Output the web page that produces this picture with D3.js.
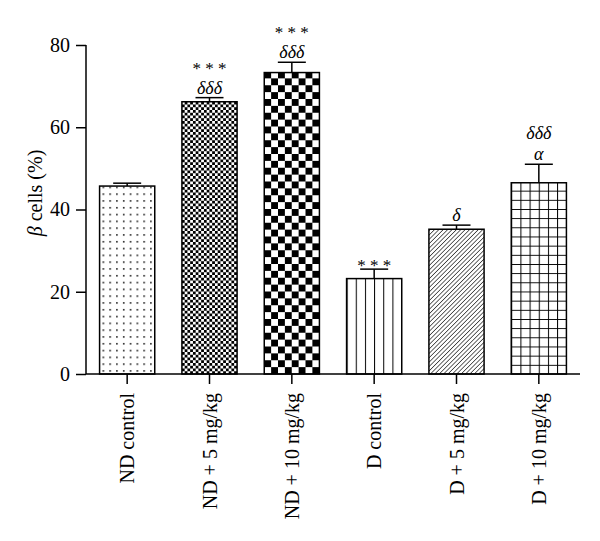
<!DOCTYPE html>
<html>
<head>
<meta charset="utf-8">
<script src="https://cdn.jsdelivr.net/npm/d3@7"></script>
<style>
  body { margin: 0; background: #fff; }
  text { font-family: "Liberation Serif", "Times New Roman", serif; fill: #000; }
</style>
</head>
<body>
<svg id="chart" width="600" height="541"></svg>
<script>
// data
var groups = ["ND control", "ND + 5 mg/kg", "ND + 10 mg/kg", "D control", "D + 5 mg/kg", "D + 10 mg/kg"];
var means = [45.7, 66.2, 73.3, 23.2, 35.2, 46.5];
var errors = [0.7, 1.0, 2.5, 2.3, 1.0, 4.5];
// significance marks, bottom line first
var marks = [[], ["δδδ", "* * *"], ["δδδ", "* * *"], ["* * *"], ["δ"], ["α", "δδδ"]];
var fills = ["dots", "fineCheck", "bigCheck", "vlines", "diag", "grid"];
var yTicks = [0, 20, 40, 60, 80];

var svg = d3.select("#chart");

// chart area
var x = d3.scaleBand().domain(groups).range([86, 580]).paddingInner(0.33).paddingOuter(0.165);
var y = d3.scaleLinear().domain([0, 80]).range([374, 45]);

// patterns -- each anchored to its bar's left edge
var defs = svg.append("defs");
function pat(id, w, h, i) {
  return defs.append("pattern").attr("id", id)
    .attr("patternUnits", "userSpaceOnUse")
    .attr("x", x(groups[i])).attr("y", y(0))
    .attr("width", w).attr("height", h);
}
var p;
p = pat("dots", 6.8, 6.8, 0);
p.append("rect").attr("width", 6.8).attr("height", 6.8).attr("fill", "#fff");
p.append("rect").attr("x", 3).attr("y", 3).attr("width", 1.5).attr("height", 1.5).attr("fill", "#000");

var c1 = 55 / 20;
p = pat("fineCheck", c1 * 2, c1 * 2, 1);
p.append("rect").attr("width", c1 * 2).attr("height", c1 * 2).attr("fill", "#fff");
p.append("rect").attr("width", c1).attr("height", c1).attr("fill", "#000");
p.append("rect").attr("x", c1).attr("y", c1).attr("width", c1).attr("height", c1).attr("fill", "#000");

var c2 = 55 / 8;
p = pat("bigCheck", c2 * 2, c2 * 2, 2);
p.append("rect").attr("width", c2 * 2).attr("height", c2 * 2).attr("fill", "#fff");
p.append("rect").attr("width", c2).attr("height", c2).attr("fill", "#000");
p.append("rect").attr("x", c2).attr("y", c2).attr("width", c2).attr("height", c2).attr("fill", "#000");

var v = 55 / 6;
p = pat("vlines", v, 10, 3);
p.append("rect").attr("width", v).attr("height", 10).attr("fill", "#fff");
p.append("line").attr("x1", 0).attr("x2", 0).attr("y1", 0).attr("y2", 10).attr("stroke", "#000").attr("stroke-width", 2);

p = pat("diag", 3.1, 3.1, 4).attr("patternTransform", "rotate(45)");
p.append("rect").attr("width", 3.1).attr("height", 3.1).attr("fill", "#fff");
p.append("line").attr("x1", 0).attr("x2", 0).attr("y1", 0).attr("y2", 3.1).attr("stroke", "#000").attr("stroke-width", 1.2);

p = pat("grid", v, v, 5);
p.append("rect").attr("width", v).attr("height", v).attr("fill", "#fff");
p.append("path").attr("d", "M0,0V" + v + "M0,0H" + v).attr("stroke", "#000").attr("stroke-width", 2).attr("fill", "none");

// error bars (upper only) go behind the bars
var eb = svg.append("g").attr("stroke", "#000").attr("stroke-width", 1.5);
groups.forEach(function(g, i) {
  var cx = x(g) + x.bandwidth() / 2;
  eb.append("line").attr("x1", cx).attr("x2", cx).attr("y1", y(means[i])).attr("y2", y(means[i] + errors[i]));
  eb.append("line").attr("x1", cx - 14).attr("x2", cx + 14).attr("y1", y(means[i] + errors[i])).attr("y2", y(means[i] + errors[i]));
});

// bars
svg.append("g").selectAll("rect").data(groups).join("rect")
  .attr("x", function(d) { return x(d); })
  .attr("y", function(d, i) { return y(means[i]); })
  .attr("width", x.bandwidth())
  .attr("height", function(d, i) { return y(0) - y(means[i]); })
  .attr("fill", function(d, i) { return "url(#" + fills[i] + ")"; })
  .attr("stroke", "#000").attr("stroke-width", 1.5);

// significance marks, stacked up from the error cap
// asterisks sit high in the font so their baseline goes lower
groups.forEach(function(g, i) {
  var cx = x(g) + x.bandwidth() / 2;
  var base = y(means[i] + errors[i]);
  marks[i].forEach(function(m, k) {
    var star = m.indexOf("*") >= 0;
    var by;
    if (k === 0) by = star ? base + 2 : base - 4;
    else by = star ? base - 24 : base - 25;
    svg.append("text")
      .attr("x", cx).attr("y", by)
      .attr("text-anchor", "middle")
      .style("font-size", star ? "17px" : "18px")
      .style("font-style", star ? "normal" : "italic")
      .text(m);
  });
});

// axes
var yAxis = svg.append("g").attr("transform", "translate(86,0)")
  .call(d3.axisLeft(y).tickValues(yTicks).tickSize(10).tickPadding(6));
var xAxis = svg.append("g").attr("transform", "translate(0,374)")
  .call(d3.axisBottom(x).tickSize(10).tickSizeOuter(0));
[yAxis, xAxis].forEach(function(a) {
  a.select(".domain").attr("stroke-width", 1.5);
  a.selectAll(".tick line").attr("stroke-width", 1.5);
  a.selectAll("text").style("font-size", "20px").attr("font-family", null);
});
yAxis.select(".domain").attr("d", "M0,45V374");
xAxis.select(".domain").attr("d", "M86,0H580");
xAxis.selectAll(".tick text")
  .attr("transform", "rotate(-90)")
  .attr("text-anchor", "end")
  .attr("x", -19).attr("y", 0).attr("dy", "0.35em");

// y label
var yl = svg.append("text").attr("transform", "translate(35,193) rotate(-90)")
  .attr("text-anchor", "middle").attr("dy", "0.35em").style("font-size", "20px");
yl.append("tspan").style("font-style", "italic").text("β");
yl.append("tspan").text(" cells (%)");
</script>
</body>
</html>
